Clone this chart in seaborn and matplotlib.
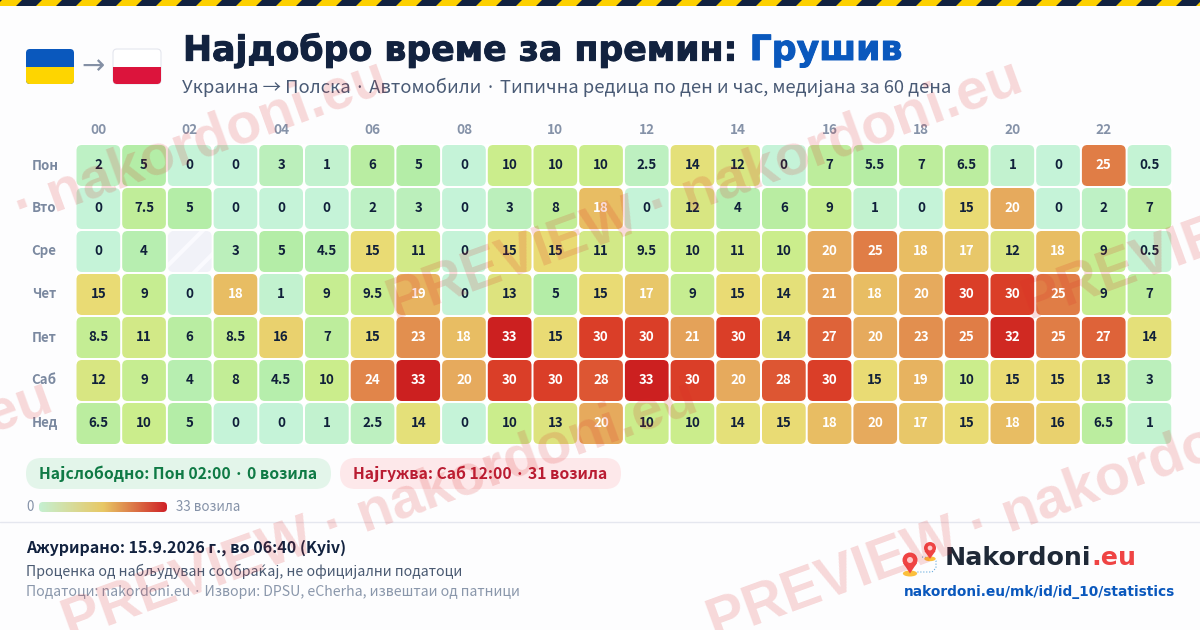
import numpy as np
import pandas as pd
import seaborn as sns
import matplotlib.pyplot as plt
import matplotlib.patheffects as pe
from matplotlib.colors import LinearSegmentedColormap
from matplotlib.patches import FancyBboxPatch, PathPatch, Polygon, Rectangle, Circle, Ellipse
from matplotlib.path import Path

hours = ['00', '01', '02', '03', '04', '05', '06', '07', '08', '09', '10', '11',
         '12', '13', '14', '15', '16', '17', '18', '19', '20', '21', '22', '23']
days = ['Пон', 'Вто', 'Сре', 'Чет', 'Пет', 'Саб', 'Нед']

mon = [2, 5, 0, 0, 3, 1, 6, 5, 0, 10, 10, 10, 2.5, 14, 12, 0, 7, 5.5, 7, 6.5, 1, 0, 25, 0.5]
tue = [0, 7.5, 5, 0, 0, 0, 2, 3, 0, 3, 8, 18, 0, 12, 4, 6, 9, 1, 0, 15, 20, 0, 2, 7]
wed = [0, 4, np.nan, 3, 5, 4.5, 15, 11, 0, 15, 15, 11, 9.5, 10, 11, 10, 20, 25, 18, 17, 12, 18, 9, 0.5]
thu = [15, 9, 0, 18, 1, 9, 9.5, 19, 0, 13, 5, 15, 17, 9, 15, 14, 21, 18, 20, 30, 30, 25, 9, 7]
fri = [8.5, 11, 6, 8.5, 16, 7, 15, 23, 18, 33, 15, 30, 30, 21, 30, 14, 27, 20, 23, 25, 32, 25, 27, 14]
sat = [12, 9, 4, 8, 4.5, 10, 24, 33, 20, 30, 30, 28, 33, 30, 20, 28, 30, 15, 19, 10, 15, 15, 13, 3]
sun = [6.5, 10, 5, 0, 0, 1, 2.5, 14, 0, 10, 13, 20, 10, 10, 14, 15, 18, 20, 17, 15, 18, 16, 6.5, 1]

W, H = 1200, 630
TEXT = ['Noto Sans CJK JP', 'DejaVu Sans']
NAVY = '#12223f'

# colour stops picked off the cells, position is value / 33
cmap = LinearSegmentedColormap.from_list('queue', [
    (0.0, '#c5f3d8'),
    (0.15, '#b4eda7'),
    (0.30, '#cbed8c'),
    (0.45, '#e9dd75'),
    (0.55, '#e8bb62'),
    (0.62, '#e5a75c'),
    (0.76, '#e07c45'),
    (0.90, '#dc4129'),
    (1.0, '#cc2020'),
])
legend_cmap = LinearSegmentedColormap.from_list('legend', ['#c5f0d2', '#e8c865', '#cf2027'])


def px_axes(fig, left, top, width, height):
    return fig.add_axes([left / W, 1 - (top + height) / H, width / W, height / H])


def rounded(ax, x, y, w, h, r, **kw):
    box = FancyBboxPatch((x + r, y + r), w - 2 * r, h - 2 * r,
                         boxstyle=f'round,pad={r},rounding_size={r}', **kw)
    ax.add_patch(box)
    return box


def cell_mask(ax, rows, cols, gap_x, gap_y, rx, ry):
    # white sheet with a rounded hole per cell, makes the gaps and the corners
    verts = [(-0.1, -0.1), (-0.1, rows + 0.1), (cols + 0.1, rows + 0.1), (cols + 0.1, -0.1), (-0.1, -0.1)]
    codes = [Path.MOVETO, Path.LINETO, Path.LINETO, Path.LINETO, Path.CLOSEPOLY]
    for i in range(rows):
        for j in range(cols):
            x0, x1 = j + gap_x, j + 1 - gap_x
            y0, y1 = i + gap_y, i + 1 - gap_y
            verts += [(x0 + rx, y0), (x1 - rx, y0), (x1, y0), (x1, y0 + ry),
                      (x1, y1 - ry), (x1, y1), (x1 - rx, y1), (x0 + rx, y1),
                      (x0, y1), (x0, y1 - ry), (x0, y0 + ry), (x0, y0), (x0 + rx, y0)]
            codes += [Path.MOVETO, Path.LINETO, Path.CURVE3, Path.CURVE3,
                      Path.LINETO, Path.CURVE3, Path.CURVE3, Path.LINETO,
                      Path.CURVE3, Path.CURVE3, Path.LINETO, Path.CURVE3, Path.CURVE3]
    ax.add_patch(PathPatch(Path(verts, codes), fc='white', ec='none', zorder=2))


def draw_heatmap(fig):
    left, top, cw, ch = 75.5, 144, 45.7, 43.0
    ax = px_axes(fig, left, top, cw * 24, ch * 7)
    table = pd.DataFrame([mon, tue, wed, thu, fri, sat, sun], index=days, columns=hours)
    sns.heatmap(table, ax=ax, cmap=cmap, vmin=0, vmax=33, cbar=False, annot=True, fmt='g',
                xticklabels=2, yticklabels=True,
                annot_kws={'fontsize': 9.6, 'fontweight': 'bold', 'family': TEXT, 'zorder': 4})
    ax.set_facecolor('#f1f2f8')
    # the empty cell is hatched
    plt.rcParams['hatch.linewidth'] = 3
    ax.add_patch(Rectangle((2, 2), 1, 1, fc='#f1f2f8', ec='#fafafe', lw=0, hatch='/', zorder=1))
    cell_mask(ax, 7, 24, 1.0 / cw, 1.0 / ch, 5.5 / cw, 5.5 / ch)
    for t, value in zip(ax.texts, table.stack().values):
        t.set_color('white' if value >= 17 else '#10203a')
        t.set_y(t.get_position()[1] - 0.5 / ch)
    ax.xaxis.tick_top()
    ax.tick_params(axis='both', length=0)
    ax.set_xlabel('')
    ax.set_ylabel('')
    plt.setp(ax.get_xticklabels(), rotation=0, color='#8592a8', fontsize=9.8,
             fontweight='bold', family=TEXT)
    plt.setp(ax.get_yticklabels(), rotation=0, color='#7b89a0', fontsize=9.6,
             fontweight='bold', family=TEXT, ha='left')
    ax.tick_params(axis='x', pad=5)
    ax.tick_params(axis='y', pad=31.5)
    for s in ax.spines.values():
        s.set_visible(False)
    return ax


def draw_header(ax):
    # hazard tape on top
    ax.add_patch(Rectangle((0, 0), W, 6, fc='#fdd000', ec='none'))
    for x in range(-40, W + 40, 40):
        ax.add_patch(Polygon([(x + 16, 6), (x + 36, 6), (x + 42, 0), (x + 22, 0)], fc=NAVY, ec='none'))

    # flags
    ua_blue = rounded(ax, 26, 49, 48, 35, 4, fc='#0a58bd', ec='none')
    ua_yel = ax.add_patch(Rectangle((26, 66.5), 48, 18, fc='#fed500', ec='none'))
    ua_yel.set_clip_path(ua_blue)
    rounded(ax, 113, 49, 48, 35, 4, fc='white', ec='#e4e6ee', lw=0.8)
    pl_base = rounded(ax, 113, 49, 48, 35, 4, fc='none', ec='none')
    pl_red = ax.add_patch(Rectangle((113, 66.5), 48, 18, fc='#dc143c', ec='none'))
    pl_red.set_clip_path(pl_base)
    ax.text(93.5, 66, '→', color='#8490a5', fontsize=20, ha='center', va='center', family='DejaVu Sans')

    # title, the two colours are placed one after the other
    heavy = [pe.withStroke(linewidth=0.7, foreground=NAVY)]
    t1 = ax.text(183, 50, 'Најдобро време за премин: ', color=NAVY, fontsize=25, fontweight='bold',
                 family='DejaVu Sans', va='center', path_effects=heavy)
    ax.figure.canvas.draw()
    bb = t1.get_window_extent().transformed(ax.transData.inverted())
    ax.text(bb.x1, 50, 'Грушив', color='#0a58bd', fontsize=25, fontweight='bold', family='DejaVu Sans',
            va='center', path_effects=[pe.withStroke(linewidth=0.7, foreground='#0a58bd')])
    ax.text(182, 87, 'Украина → Полска · Автомобили · Типична редица по ден и час, медијана за 60 дена',
            color='#495a75', fontsize=13.25, family=TEXT, va='center')


def draw_footer(ax):
    rounded(ax, 26, 458, 305, 31, 15.5, fc='#e3f5ea', ec='none')
    ax.text(39, 474, 'Најслободно: Пон 02:00 · 0 возила', color='#0f7a45', fontsize=11.3,
            fontweight='bold', family=TEXT, va='center')
    rounded(ax, 340, 458, 281, 31, 15.5, fc='#fde8ea', ec='none')
    ax.text(353, 474, 'Најгужва: Саб 12:00 · 31 возила', color='#b91c32', fontsize=11.3,
            fontweight='bold', family=TEXT, va='center')

    ax.text(26, 507, '0', color='#8592a8', fontsize=9.6, family=TEXT, va='center')
    bar = ax.imshow(np.linspace(0, 1, 256).reshape(1, -1), cmap=legend_cmap, extent=(39, 167, 512, 502),
                    aspect='auto', zorder=1)
    bar.set_clip_path(rounded(ax, 39, 502, 128, 10, 4, fc='none', ec='none'))
    ax.set_xlim(0, W)
    ax.set_ylim(H, 0)
    ax.text(176, 507, '33 возила', color='#8592a8', fontsize=9.6, family=TEXT, va='center')

    ax.plot([0, W], [521.5, 521.5], color='#e5e7ef', lw=1)
    ax.text(26, 548, 'Ажурирано: 15.9.2026 г., во 06:40 (Kyiv)', color=NAVY, fontsize=11.5,
            fontweight='bold', family=TEXT, va='center')
    ax.text(26, 571, 'Проценка од набљудуван сообраќај, не официјални податоци', color='#4a5a72',
            fontsize=10.25, family=TEXT, va='center')
    ax.text(26, 592, 'Податоци: nakordoni.eu · Извори: DPSU, eCherha, извештаи од патници', color='#8a97ab',
            fontsize=10.2, family=TEXT, va='center')

    # logo pins
    for cx, cy, r in [(910, 560, 7.5), (930, 548, 6)]:
        ax.add_patch(Ellipse((cx, cy + r * 1.8), r * 1.9, r * 0.8, fc='#fbbf3c', ec='none', zorder=3))
        ax.add_patch(Polygon([(cx - r * 0.92, cy + 3), (cx + r * 0.92, cy + 3), (cx, cy + r * 1.8)],
                             fc='#ef4444', ec='none', zorder=3))
        ax.add_patch(Circle((cx, cy), r, fc='#ef4444', ec='none', zorder=3))
        ax.add_patch(Circle((cx, cy), r * 0.4, fc='#ffc9c9', ec='none', zorder=3))
    ax.plot([922, 932, 936, 936, 932, 917], [557, 558, 561, 568, 572, 572], color='#62a8dc', lw=0.8, ls=':')
    t1 = ax.text(945, 558, 'Nakordoni', color='#1f2937', fontsize=18.2, fontweight='bold',
                 family='DejaVu Sans', va='center')
    ax.figure.canvas.draw()
    bb = t1.get_window_extent().transformed(ax.transData.inverted())
    ax.text(bb.x1, 558, '.eu', color='#ef4444', fontsize=18.2, fontweight='bold',
            family='DejaVu Sans', va='center')
    ax.text(1175, 592, 'nakordoni.eu/mk/id/id_10/statistics', color='#0a58bd', fontsize=9.86,
            fontweight='bold', family='DejaVu Sans', va='center', ha='right')


def draw_watermark(ax):
    starts = [(85, -3), (725, -3), (-240, 320), (395, 320), (1030, 320), (-575, 640), (70, 640), (715, 640)]
    for x, y in starts:
        ax.text(x, y, 'PREVIEW · nakordoni.eu', color='#dc2626', alpha=0.17, fontsize=41,
                fontweight='bold', family='Liberation Sans', rotation=20, rotation_mode='anchor',
                ha='left', va='baseline', zorder=10, clip_on=True)


def main():
    sns.set_theme(style='white')
    plt.rcParams['font.family'] = TEXT
    fig = plt.figure(figsize=(12, 6.3), dpi=100, facecolor='#fdfdfe')

    draw_heatmap(fig)

    overlay = fig.add_axes([0, 0, 1, 1], zorder=5)
    overlay.patch.set_alpha(0)
    overlay.set_xlim(0, W)
    overlay.set_ylim(H, 0)
    overlay.axis('off')
    draw_header(overlay)
    draw_footer(overlay)
    draw_watermark(overlay)
    fig.savefig('out.png', dpi=100, facecolor=fig.get_facecolor())


if __name__ == '__main__':
    main()
